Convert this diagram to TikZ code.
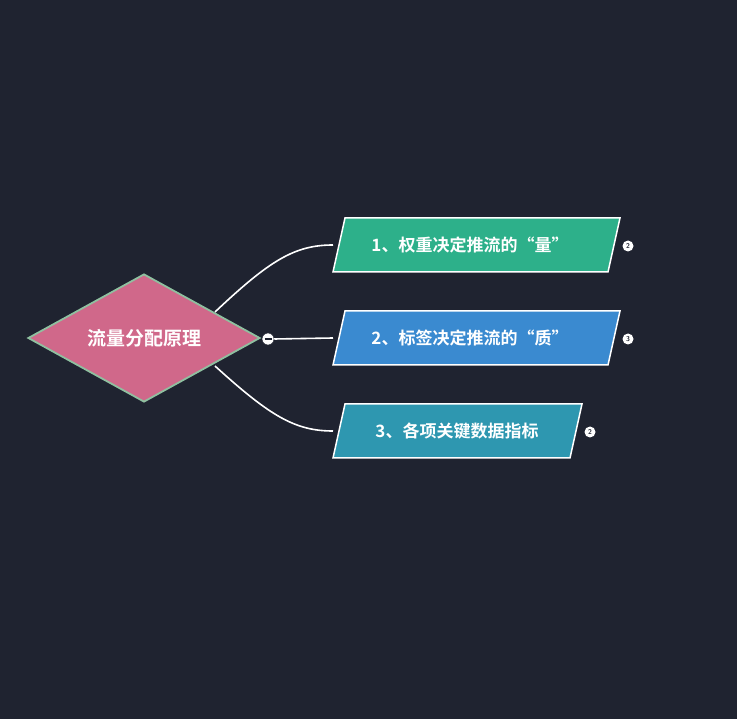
\documentclass[tikz,border=0pt]{standalone}
\usepackage{fontspec}
\newfontfamily\cjk{Noto Sans CJK SC}[BoldFont={* Bold}]
\usetikzlibrary{shapes.geometric}
\definecolor{bg}{HTML}{1F2330}
\definecolor{pinkc}{HTML}{D0688A}
\definecolor{dborder}{HTML}{8FC0A0}
\definecolor{c1}{HTML}{2DB08A}
\definecolor{c2}{HTML}{3A8AD0}
\definecolor{c3}{HTML}{2E97B0}
\begin{document}
\begin{tikzpicture}[x=1pt,y=-1pt,
  topic/.style={draw=white,line width=1.5pt},
  ttext/.style={text=white,font=\cjk\bfseries\fontsize{17}{20}\selectfont},
  badge/.style={circle,fill=white,inner sep=0pt,minimum size=11pt,text=bg,font=\sffamily\bfseries\fontsize{7}{7}\selectfont},
  link/.style={white,line width=1.6pt}]
\fill[bg] (0,0) rectangle (737,719);
\useasboundingbox (0,0) rectangle (737,719);
\node[diamond,aspect=1.81,fill=pinkc,draw=dborder,line width=1.8pt,minimum width=232pt,minimum height=128pt,inner sep=0pt,text=white,font=\cjk\bfseries\fontsize{19}{22}\selectfont] (root) at (144,338) {流量分配原理};
\draw[topic,fill=c1] (345,218) -- (620,218) -- (608,272) -- (333,272) -- cycle;
\draw[topic,fill=c2] (345,311) -- (620,311) -- (608,365) -- (333,365) -- cycle;
\draw[topic,fill=c3] (345,404) -- (582,404) -- (570,458) -- (333,458) -- cycle;
\node[ttext] (t1) at (470,245) {1、权重决定推流的“量”};
\node[ttext] (t2) at (470,338) {2、标签决定推流的“质”};
\node[ttext] (t3) at (457,431) {3、各项关键数据指标};
\coordinate (e1) at (333,245);
\coordinate (e2) at (333,338);
\coordinate (e3) at (333,431);
\node[badge] (b1) at (628,246) {2};
\node[badge] (b2) at (628,339) {3};
\node[badge] (b3) at (590,432) {2};
\coordinate (s1) at (215,312);
\coordinate (s3) at (215,366);
\draw[link] (s1) .. controls (270,260) and (295,245) .. (e1);
\draw[link] (s3) .. controls (270,416) and (295,431) .. (e3);
\node[circle,fill=white,draw=bg,line width=0.5pt,minimum size=12pt,inner sep=0pt] (col) at (268,339) {};
\draw[bg,line width=1.3pt] ([xshift=-3.5pt]col.center) -- ([xshift=3.5pt]col.center);
\draw[link] (col.east) -- (e2);
\end{tikzpicture}
\end{document}
